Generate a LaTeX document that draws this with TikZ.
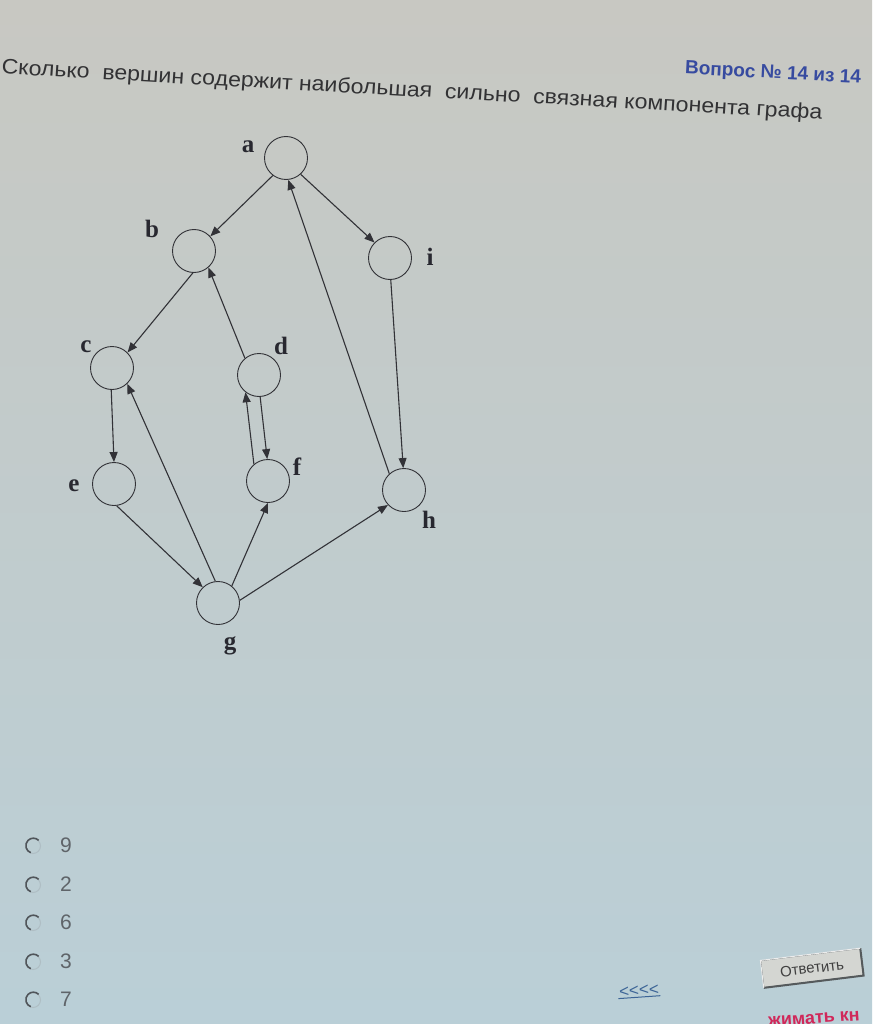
\documentclass[tikz,border=0pt]{standalone}
\usepackage{fontspec}
\setmainfont{Liberation Sans}
\newfontfamily\lblfont{Liberation Serif}
\usetikzlibrary{arrows.meta}
\definecolor{bgtop}{RGB}{200,200,194}
\definecolor{bgmid}{RGB}{214,219,215}
\definecolor{bgbot}{RGB}{186,207,215}
\definecolor{edgecol}{RGB}{50,50,55}
\definecolor{labcol}{RGB}{40,40,48}
\definecolor{qcol}{RGB}{50,50,52}
\definecolor{headcol}{RGB}{55,75,160}
\definecolor{optcol}{RGB}{95,100,105}
\definecolor{raddark}{RGB}{80,85,90}
\definecolor{radlight}{RGB}{175,190,196}
\definecolor{linkcol}{RGB}{60,100,150}
\definecolor{btnfill}{RGB}{212,214,210}
\definecolor{btnshadow}{RGB}{85,90,92}
\definecolor{redcol}{RGB}{208,40,90}
\begin{document}
\begin{tikzpicture}[x=1pt,y=-1pt,
  vert/.style={circle,draw=edgecol,line width=0.9pt,minimum size=43pt,inner sep=0pt},
  lbl/.style={font=\lblfont\bfseries\fontsize{25}{25}\selectfont,text=labcol,inner sep=0pt},
  edge/.style={draw=edgecol,line width=1.1pt,-{Triangle[length=10pt,width=8pt]}},
  radio/.style={circle,draw=radlight,line width=1pt,minimum size=15pt,inner sep=0pt},
  opt/.style={font=\fontsize{21}{21}\selectfont,text=optcol,inner sep=0pt}]
\useasboundingbox (0,0) rectangle (872,1024);
\shade[top color=bgtop,middle color=bgmid,bottom color=bgbot] (0,0) rectangle (872,1024);
% header texts
\node[font=\bfseries\fontsize{19}{19}\selectfont,text=headcol,rotate=-3,inner sep=0pt] (head) at (773,74) {Вопрос № 14 из 14};
\node[font=\fontsize{21}{21}\selectfont,text=qcol,xscale=1.1,rotate=-3.5,inner sep=0pt] (quest) at (412,91) {Сколько\ \ вершин содержит наибольшая\ \ сильно\ \ связная компонента графа};
% vertices
\node[vert] (a) at (286,158) {};
\node[vert] (b) at (194,251) {};
\node[vert] (i) at (390,258) {};
\node[vert] (c) at (112,368) {};
\node[vert] (d) at (259,375) {};
\node[vert] (e) at (114,484) {};
\node[vert] (f) at (268,481) {};
\node[vert] (h) at (404,490) {};
\node[vert] (g) at (218,603) {};
% labels
\node[lbl] (la) at (248,147) {a};
\node[lbl] (lb) at (152,229) {b};
\node[lbl] (li) at (430,257) {i};
\node[lbl] (lc) at (86,347) {c};
\node[lbl] (ld) at (281,346) {d};
\node[lbl] (le) at (74,486) {e};
\node[lbl] (lf) at (297,467) {f};
\node[lbl] (lh) at (429,520) {h};
\node[lbl] (lg) at (230,646) {g};
% edges
\draw[edge] (a.233) -- (b.42);
\draw[edge] (a.312) -- (i.135);
\draw[edge] (b.267) -- (c.45);
\draw[edge] (d.130) -- (b.311);
\draw[edge] (h.132) -- (a.276);
\draw[edge] (i.272) -- (h.92);
\draw[edge] (c.268) -- (e.90);
\draw[edge] (g.97) -- (c.314);
\draw[edge] (e.277) -- (g.134);
\draw[edge] (g.51) -- (f.270);
\draw[edge] (g.7) -- (h.223);
\draw[edge] (f.130) -- (d.232);
\draw[edge] (d.273) -- (f.92);
% answer options
\foreach \k/\yy/\v in {1/846/9,2/885/2,3/923/6,4/962/3,5/1000/7}{
  \node[radio] (r\k) at (33,\yy) {};
  \draw[raddark,line width=1.6pt] (r\k.45) arc[start angle=45,end angle=250,radius=7.5pt];
  \node[opt] (o\k) at (66,\yy-1) {\v};
}
% back link
\node[font=\fontsize{17}{17}\selectfont,text=linkcol,rotate=4,inner sep=1pt] (back) at (639,991) {<{}<{}<{}<};
\draw[linkcol,line width=1pt] (back.south west) -- (back.south east);
% answer button
\node[rotate=7,fill=btnfill,draw=btnshadow,line width=0.6pt,minimum width=100pt,minimum height=27pt,inner sep=0pt,font=\fontsize{15}{15}\selectfont,text=black!75] (btn) at (812,968) {Ответить};
\draw[btnshadow,line width=2pt] (btn.south west) -- (btn.south east) -- (btn.north east);
\draw[white!85!gray,line width=1pt] (btn.south west) -- (btn.north west) -- (btn.north east);
% red hint text (cut off at the lower edge, as in the screenshot)
\node[font=\bfseries\fontsize{18}{18}\selectfont,text=redcol,rotate=4,anchor=west,inner sep=0pt] (hint) at (768,1022) {жимать кн};
\end{tikzpicture}
\end{document}
